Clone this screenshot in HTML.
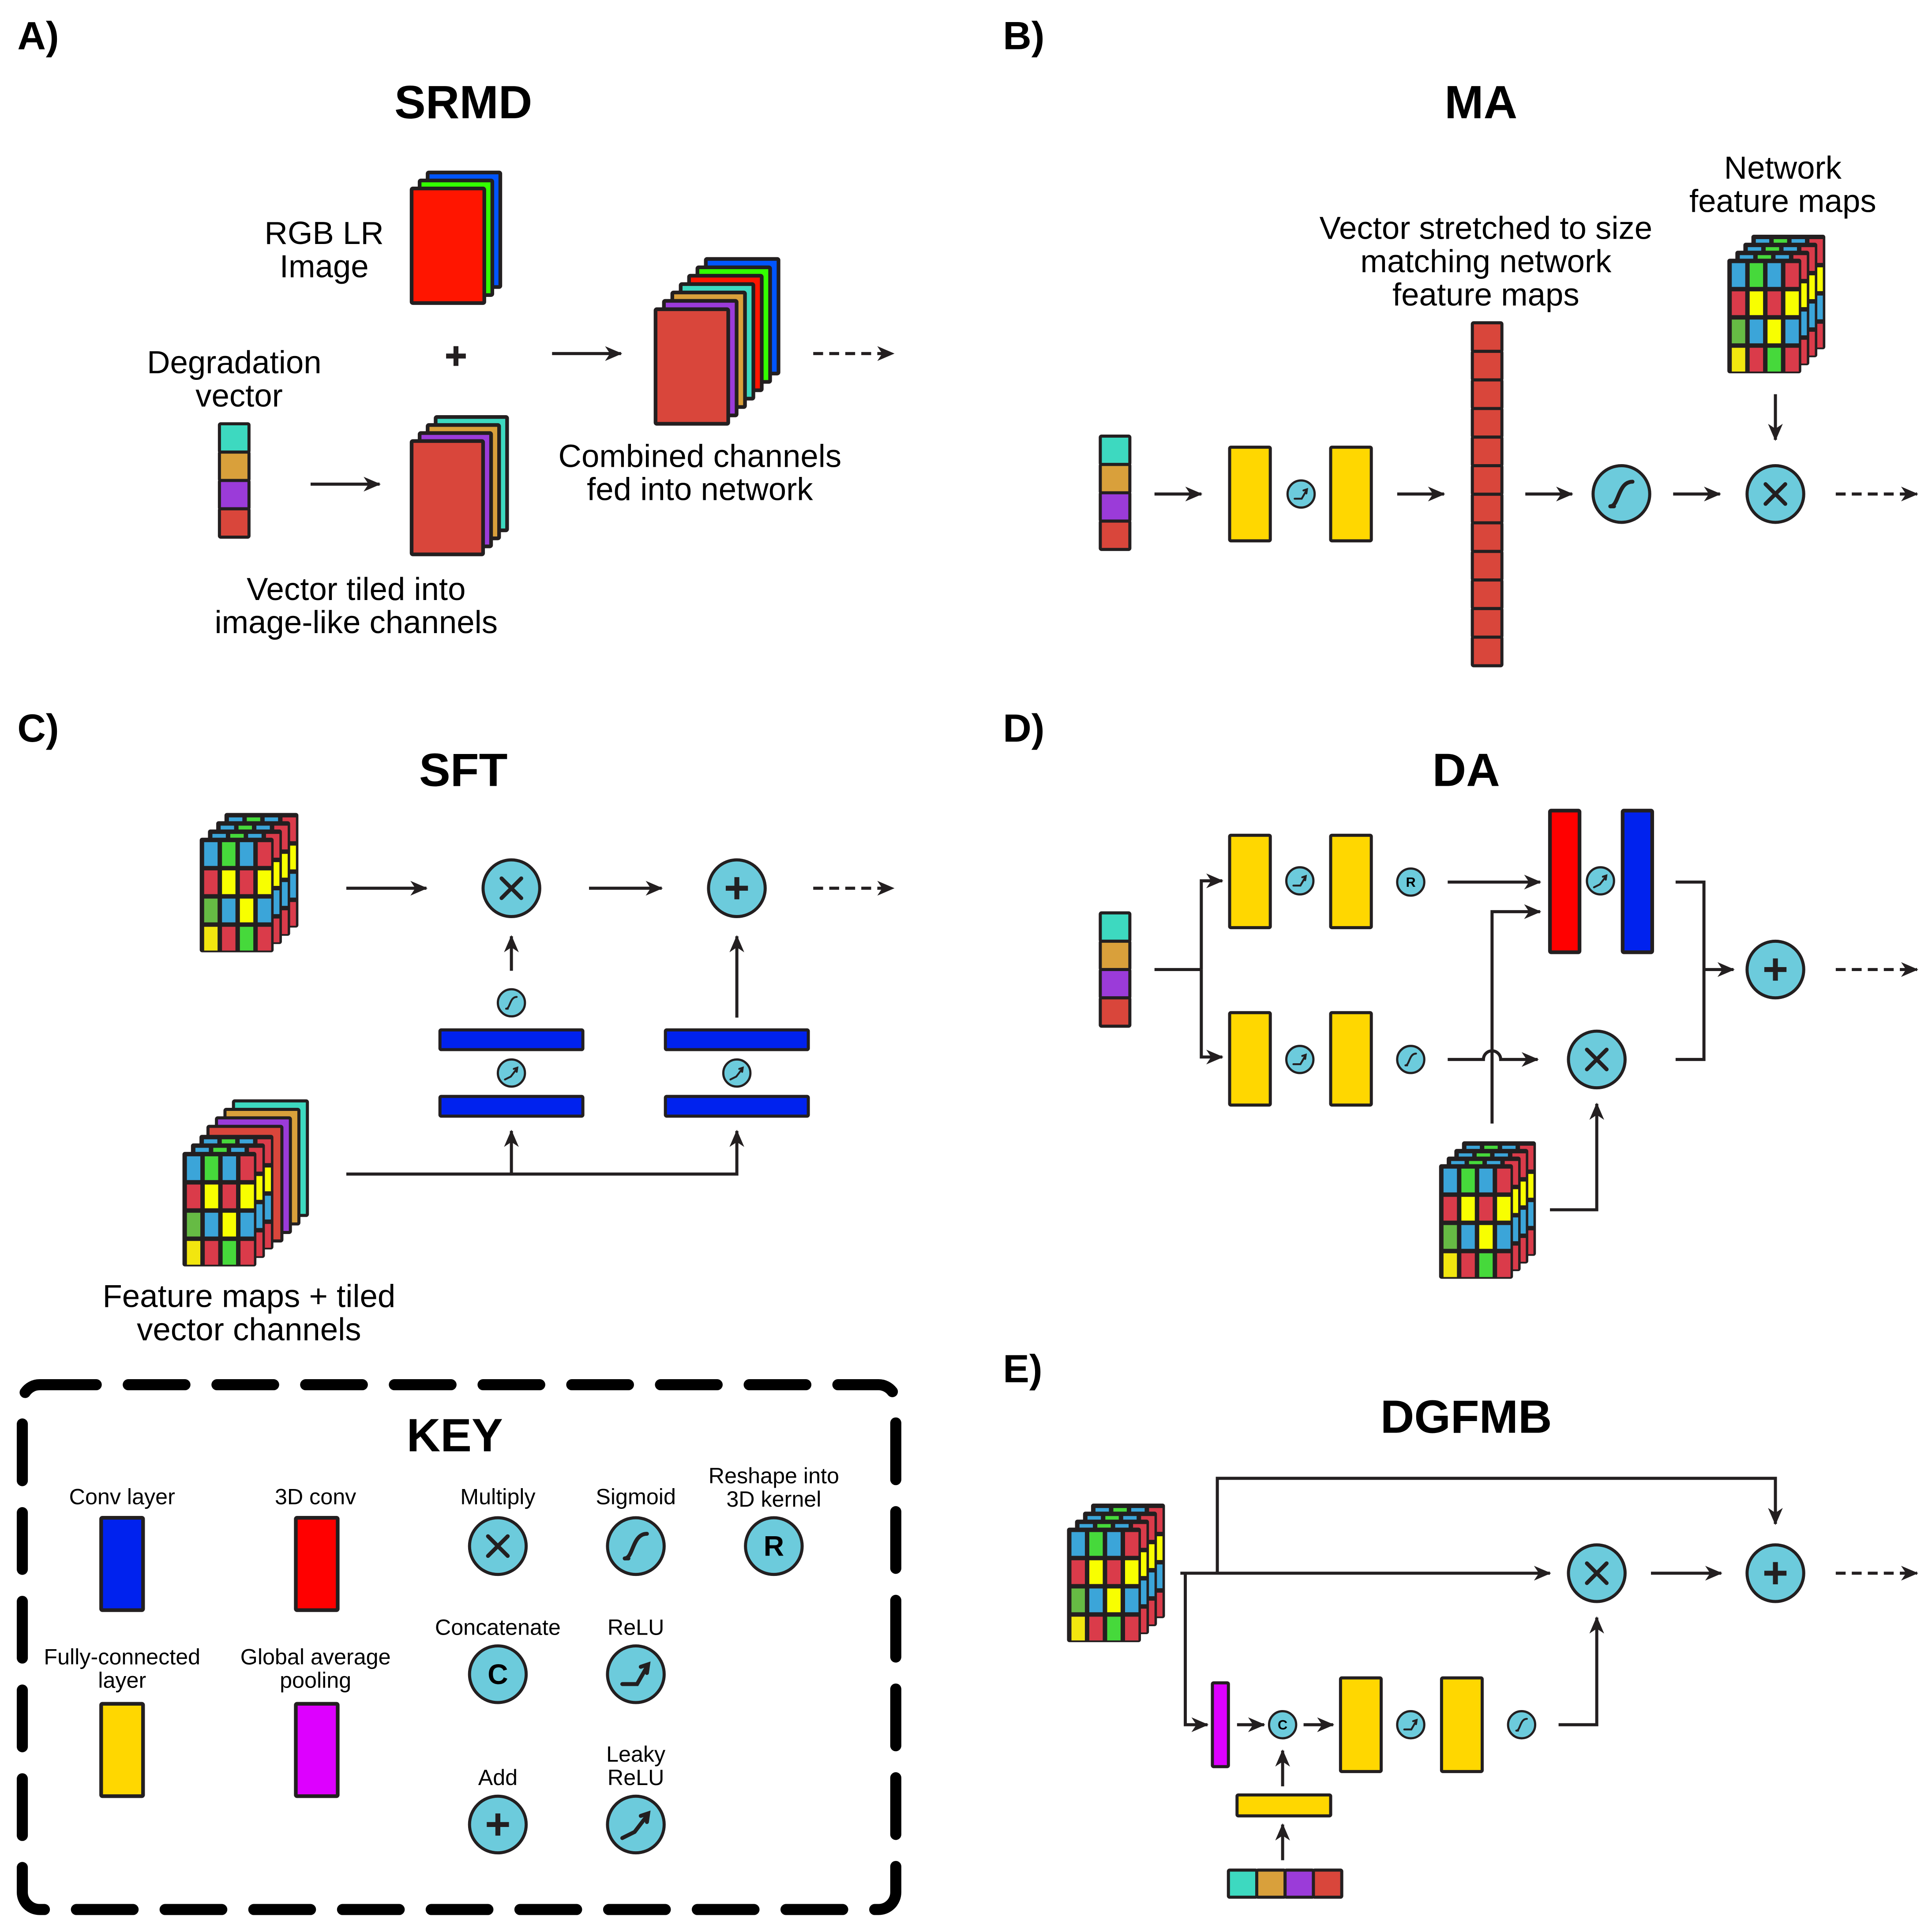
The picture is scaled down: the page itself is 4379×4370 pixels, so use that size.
<!DOCTYPE html>
<html><head><meta charset="utf-8"><style>
html,body{margin:0;padding:0;background:#fff;}
svg{display:block;}
text{font-family:"Liberation Sans",Arial,sans-serif;fill:#000;}
</style></head><body>
<svg id="s" xmlns="http://www.w3.org/2000/svg" width="4379" height="4370" viewBox="0 0 1568 1565">
<defs>
<marker id="ah" markerUnits="userSpaceOnUse" markerWidth="14" markerHeight="12" refX="13" refY="6" orient="auto">
<path d="M0,0 L14,6 L0,12 L4,6 z" fill="#231f20"/>
</marker>
</defs>
<rect width="1568" height="1565" fill="#fff"/>
<g id="shapes"></g>
<g font-size="26" text-anchor="middle">
<text x="14" y="40" font-size="32" font-weight="bold" text-anchor="start">A)</text>
<text x="814" y="40" font-size="32" font-weight="bold" text-anchor="start">B)</text>
<text x="14" y="602" font-size="32" font-weight="bold" text-anchor="start">C)</text>
<text x="814" y="602" font-size="32" font-weight="bold" text-anchor="start">D)</text>
<text x="814" y="1122" font-size="32" font-weight="bold" text-anchor="start">E)</text>
<text x="376" y="96" font-size="38" font-weight="bold">SRMD</text>
<text x="1202" y="96" font-size="38" font-weight="bold">MA</text>
<text x="376" y="638" font-size="38" font-weight="bold">SFT</text>
<text x="1190" y="638" font-size="38" font-weight="bold">DA</text>
<text x="1190" y="1163" font-size="38" font-weight="bold">DGFMB</text>
<text x="263" y="198">RGB LR</text><text x="263" y="225">Image</text>
<text x="190" y="303">Degradation</text><text x="194" y="330">vector</text>
<text x="289" y="487">Vector tiled into</text><text x="289" y="514">image-like channels</text>
<text x="568" y="379">Combined channels</text><text x="568" y="406">fed into network</text>
<text x="1206" y="194">Vector stretched to size</text><text x="1206" y="221">matching network</text><text x="1206" y="248">feature maps</text>
<text x="1447" y="145">Network</text><text x="1447" y="172">feature maps</text>
<text x="202" y="1061">Feature maps + tiled</text><text x="202" y="1088">vector channels</text>
<text x="369" y="1178" font-size="38" font-weight="bold">KEY</text>
<g font-size="18">
<text x="99" y="1221">Conv layer</text>
<text x="256" y="1221">3D conv</text>
<text x="404" y="1221">Multiply</text>
<text x="516" y="1221">Sigmoid</text>
<text x="628" y="1204">Reshape into</text><text x="628" y="1223">3D kernel</text>
<text x="99" y="1351">Fully-connected</text><text x="99" y="1370">layer</text>
<text x="256" y="1351">Global average</text><text x="256" y="1370">pooling</text>
<text x="404" y="1327">Concatenate</text>
<text x="516" y="1327">ReLU</text>
<text x="404" y="1449">Add</text>
<text x="516" y="1430">Leaky</text><text x="516" y="1449">ReLU</text>
</g>
</g>
</svg>
<script>
const NS='http://www.w3.org/2000/svg',D='#231f20';
const G=document.getElementById('shapes');
function el(t,a,p){const e=document.createElementNS(NS,t);for(const k in a)e.setAttribute(k,a[k]);(p||G).appendChild(e);return e;}
function rect(x,y,w,h,f,sw){el('rect',{x,y,width:w,height:h,fill:f,stroke:D,'stroke-width':sw||2.5,rx:1});}
function line(pts,arrow,dash){const a={points:pts.map(p=>p.join(',')).join(' '),fill:'none',stroke:D,'stroke-width':2.5,'stroke-linejoin':'miter'};if(arrow)a['marker-end']='url(#ah)';if(dash)a['stroke-dasharray']='8 5';el('polyline',a);}
const C={b:'#3ba5d9',g:'#46d93b',r:'#da3b4a',y:'#f8ff00',g2:'#66bb44',y2:'#f2e60f'};
const FRONT=[['b','g','b','r'],['r','y','r','y'],['g2','b','y','b'],['y2','r','g','r']];
const BACK=[['b','g','b','r'],['r','y','r','y'],['g2','b','y','b'],['y2','r','g','r']];
function fmLayer(x,y,front){
  el('rect',{x,y,width:60,height:93,fill:D,rx:2});
  const cw=10.9,ch=19.3,gp=3.6;
  const M=front?FRONT:BACK;
  for(let r=0;r<4;r++)for(let c=0;c<4;c++){
    let col=M[r][c]; if(!front&&c==3) col=['r','y','b','r'][r];
    el('rect',{x:x+gp+c*(cw+gp),y:y+gp+r*(ch+gp),width:cw,height:ch,fill:C[col]});
  }
}
function fmStack(x,y,n,extra,off){
  extra=extra||[];off=off||7;const L=extra.length+n;
  for(let i=0;i<L;i++){const k=L-1-i;const xx=x+k*off,yy=y-k*off;
    if(i<extra.length){rect(xx,yy,60,93,extra[i]);}
    else fmLayer(xx,yy,k==0);}
}
function stack(x,y,w,h,cols,off){ // cols front-to-back
  for(let i=cols.length-1;i>=0;i--)rect(x+i*off,y-i*off,w,h,cols[i],3);
}
function vvec(x,y,cols,w,h){cols.forEach((c,i)=>rect(x,y+i*h,w,h,c));}
function hvec(x,y,cols,w,h){cols.forEach((c,i)=>rect(x+i*w,y,w,h,c));}
const TE='#3dd9c0',OR='#d9a03b',PU='#9b3bd9',RD='#d9463b';
function circ(cx,cy,r,icon){
  el('circle',{cx,cy,r,fill:'#6ccbdc',stroke:D,'stroke-width':r>15?2.5:1.8});
  const s=r/23,g=el('g',{transform:`translate(${cx},${cy}) scale(${s})`,fill:'none',stroke:D,'stroke-width':3.2,'stroke-linecap':'round'});
  if(icon=='x'){el('path',{d:'M-8,-8 L8,8 M8,-8 L-8,8'},g);}
  else if(icon=='+'){el('path',{d:'M-9,0 L9,0 M0,-9 L0,9','stroke-width':4,'stroke-linecap':'butt'},g);}
  else if(icon=='s'){el('path',{d:'M-9,10 C-2,10 -3,-10 9,-10'},g);el('path',{d:'M-9,10 L-6,10'},g);}
  else if(icon=='relu'){el('path',{d:'M-11,8 L1,8 L9,-6'},g);el('path',{d:'M4,-6 L10,-8 L9,-1'},g);}
  else if(icon=='lrelu'){el('path',{d:'M-11,11 L-1,6 L9,-7'},g);el('path',{d:'M4,-7 L10,-9 L9,-2'},g);}
  else if(icon=='R'||icon=='C'){const t=el('text',{x:0,y:8,'text-anchor':'middle','font-size':23,'font-weight':'bold',fill:D,stroke:'none'},g);t.textContent=icon;}
}
// ---------- A ----------
stack(334,153,59,93,['#ff1500','#33ff00','#0055ff'],6.5);
el('path',{d:'M362,289 L378,289 M370,281 L370,297',stroke:D,'stroke-width':4,fill:'none'});
vvec(178,344,[TE,OR,PU,RD],24,23);
line([[252,393],[308,393]],1);
stack(334,358,58,92,[RD,PU,OR,TE],6.5);
line([[448,287],[504,287]],1);
stack(532,251,59,93,[RD,PU,OR,TE,'#ff1500','#33ff00','#0055ff'],6.8);
line([[660,287],[725,287]],1,1);
// ---------- B ----------
vvec(893,354,[TE,OR,PU,RD],24,23);
line([[937,401],[975,401]],1);
rect(998,363,33,76,'#ffd700');circ(1056,401,11,'relu');rect(1080,363,33,76,'#ffd700');
line([[1134,401],[1172,401]],1);
for(let i=0;i<12;i++)rect(1195,262+i*23.2,24,23.2,RD);
line([[1238,401],[1276,401]],1);circ(1316,401,23,'s');
line([[1358,401],[1396,401]],1);circ(1441,401,23,'x');
line([[1490,401],[1556,401]],1,1);
fmStack(1402,210,4,[],6.5);
line([[1441,320],[1441,357]],1);
// ---------- C ----------
fmStack(162,680,4,[],6.7);
line([[281,721],[346,721]],1);circ(415,721,23,'x');
line([[478,721],[537,721]],1);circ(598,721,23,'+');
line([[660,721],[725,721]],1,1);
rect(357,836,116,16,'#0022ee');rect(357,890,116,16,'#0022ee');
rect(540,836,116,16,'#0022ee');rect(540,890,116,16,'#0022ee');
circ(415,814,11,'s');circ(415,871,11,'lrelu');circ(598,871,11,'lrelu');
line([[415,788],[415,760]],1);line([[598,826],[598,760]],1);
line([[281,953],[598,953],[598,918]],1);line([[415,953],[415,918]],1);
fmStack(148,935,3,[TE,OR,PU,RD],6.9);
// ---------- D ----------
vvec(893,741,[TE,OR,PU,RD],24,23);
line([[937,787],[975,787]]);
line([[975,787],[975,715],[992,715]],1);line([[975,787],[975,858],[992,858]],1);
rect(998,678,33,75,'#ffd700');circ(1055,715,11,'relu');rect(1080,678,33,75,'#ffd700');circ(1145,716,11,'R');
line([[1175,716],[1250,716]],1);
rect(998,822,33,75,'#ffd700');circ(1055,860,11,'relu');rect(1080,822,33,75,'#ffd700');circ(1145,860,11,'s');
el('path',{d:'M1175,860 L1204,860 A7,7 0 0 1 1218,860 L1248,860',fill:'none',stroke:D,'stroke-width':2.5,'marker-end':'url(#ah)'});
circ(1296,860,23,'x');
line([[1211,912],[1211,740],[1250,740]],1);
rect(1258,658,24,115,'#ff0000',3);circ(1299,715,11,'lrelu');rect(1317,658,24,115,'#0022ee',3);
fmStack(1168,945,4,[],6.2);
line([[1258,982],[1296,982],[1296,896]],1);
line([[1360,716],[1383,716],[1383,860],[1360,860]]);
line([[1383,787],[1407,787]],1);circ(1441,787,23,'+');
line([[1490,787],[1556,787]],1,1);
// ---------- E ----------
fmStack(866,1240,4,[],6.5);
line([[958,1277],[1258,1277]],1);circ(1296,1277,23,'x');
line([[1340,1277],[1397,1277]],1);circ(1441,1277,23,'+');
line([[1490,1277],[1556,1277]],1,1);
line([[988,1277],[988,1200],[1441,1200],[1441,1237]],1);
line([[962,1277],[962,1400],[980,1400]],1);
rect(984,1366,13,68,'#dd00ff');
line([[1004,1400],[1026,1400]],1);circ(1041,1400,11,'C');
line([[1058,1400],[1082,1400]],1);
rect(1088,1362,33,76,'#ffd700');circ(1145,1400,11,'relu');rect(1170,1362,33,76,'#ffd700');circ(1235,1400,11,'s');
line([[1265,1400],[1296,1400],[1296,1313]],1);
rect(1004,1457,76,17,'#ffd700');
line([[1041,1450],[1041,1421]],1);line([[1041,1510],[1041,1481]],1);
hvec(997,1518,[TE,OR,PU,RD],23,22);
// ---------- KEY ----------
el('rect',{x:18,y:1124,width:709,height:426,rx:14,fill:'none',stroke:'#000','stroke-width':9,'stroke-dasharray':'46 26','stroke-linecap':'round'});
rect(82,1232,34,75,'#0022ee',3);rect(240,1232,34,75,'#ff0000',3);
circ(404,1255,23,'x');circ(516,1255,23,'s');circ(628,1255,23,'R');
rect(82,1383,34,75,'#ffd700',3);rect(240,1383,34,75,'#dd00ff',3);
circ(404,1359,23,'C');circ(516,1359,23,'relu');
circ(404,1481,23,'+');circ(516,1481,23,'lrelu');
</script>
</body></html>
